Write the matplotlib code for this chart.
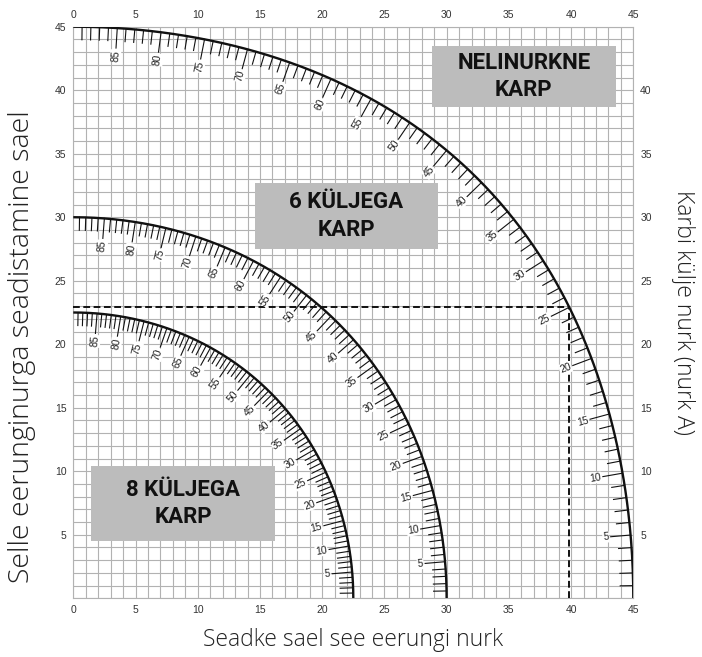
# Compound mitre chart: saw settings for 4, 6 and 8 sided boxes
import numpy as np
import matplotlib.pyplot as plt
from matplotlib.ticker import MultipleLocator
from matplotlib.patches import Rectangle

# box types and their names
box_sides = [4, 6, 8]
box_names = ['NELINURKNE\nKARP', '6 KÜLJEGA\nKARP', '8 KÜLJEGA\nKARP']

# side angles (angle A) marked along each curve, every degree
side_angles = np.arange(1, 90)
labelled_angles = np.arange(5, 90, 5)

# worked example shown with dashed lines on the 4 sided curve
example_sides = 4
example_angle = 25

axis_ticks = np.arange(0, 46, 5)


def saw_x(angle, n):
    # horizontal scale value for side angle A on an n sided box
    return np.degrees(np.arcsin(np.cos(np.radians(angle)) * np.sin(np.pi / n)))


def saw_y(angle, n):
    # vertical scale value for side angle A on an n sided box
    return np.degrees(np.arctan(np.sin(np.radians(angle)) * np.tan(np.pi / n)))


fig = plt.figure(figsize=(7.02, 6.57), dpi=100)
ax = fig.add_axes([73.3 / 702, 1 - 598.3 / 657, 560 / 702, 571.6 / 657])
ax.set_xlim(0, 45)
ax.set_ylim(0, 45)

# pixels per data unit, used to keep ticks square to the curves
sx = 560 / 45
sy = 571.6 / 45

grid_col = '#b2b2b2'
ax.xaxis.set_minor_locator(MultipleLocator(1))
ax.yaxis.set_minor_locator(MultipleLocator(1))
ax.set_xticks(axis_ticks)
ax.set_yticks(axis_ticks)
ax.grid(which='both', color=grid_col, lw=0.8, zorder=0)
ax.set_axisbelow(True)
for s in ax.spines.values():
    s.set_color(grid_col)
    s.set_linewidth(0.8)

ax.tick_params(which='both', length=0, top=True, right=True,
               labeltop=True, labelright=True, labelsize=7.5,
               labelcolor='#333333', pad=5)
for lab in ax.get_xticklabels() + ax.get_yticklabels():
    lab.set_family('Liberation Sans')
for t in ax.yaxis.get_major_ticks():
    if t.get_loc() == 0:
        t.label1.set_visible(False)
        t.label2.set_visible(False)
    if t.get_loc() == 45:
        t.label2.set_visible(False)

# the curves with their degree ticks and labels
fine = np.linspace(0, 90, 400)
for n in box_sides:
    ax.plot(saw_x(fine, n), saw_y(fine, n), color='#111111', lw=1.7,
            solid_capstyle='butt', zorder=4)
    for a in side_angles:
        x0, y0 = saw_x(a, n), saw_y(a, n)
        tx = (saw_x(a + 0.01, n) - saw_x(a - 0.01, n)) * sx
        ty = (saw_y(a + 0.01, n) - saw_y(a - 0.01, n)) * sy
        norm = np.hypot(tx, ty)
        nx, ny = -ty / norm, tx / norm  # points in towards the origin
        long_tick = a in labelled_angles
        length = 20 if long_tick else 13
        x1, y1 = x0 + length * nx / sx, y0 + length * ny / sy
        ax.plot([x0, x1], [y0, y1], color='#111111', lw=0.8, zorder=4)
        if long_tick:
            rot = np.degrees(np.arctan2(-ny, -nx))
            ax.text(x1 + 2 * nx / sx, y1 + 2 * ny / sy, str(a), rotation=rot,
                    rotation_mode='anchor', ha='right', va='center',
                    fontsize=7.5, family='Liberation Sans', color='#222222',
                    bbox=dict(boxstyle='square,pad=0.05', fc='white', ec='none'),
                    zorder=5)

# dashed example lines
ex_x = saw_x(example_angle, example_sides)
ex_y = saw_y(example_angle, example_sides)
ax.plot([0, ex_x], [ex_y, ex_y], color='#111111', lw=1.4,
        ls=(0, (3.5, 1.8)), zorder=3)
ax.plot([ex_x, ex_x], [0, ex_y], color='#111111', lw=1.4,
        ls=(0, (3.5, 1.8)), zorder=3)

# grey name boxes
box_spots = [(28.8, 38.7, 14.8, 4.8), (14.6, 27.5, 14.7, 5.2), (1.45, 4.5, 14.75, 5.9)]
for name, (bx, by, bw, bh) in zip(box_names, box_spots):
    ax.add_patch(Rectangle((bx, by), bw, bh, fc='#bcbcbc', ec='none', zorder=2))
    ax.text(bx + bw / 2, by + bh / 2, name, ha='center', va='center',
            fontsize=16, fontweight='bold', family='Roboto',
            color='#111111', linespacing=1.3, zorder=3)

# axis titles
title_font = dict(family='Open Sans', fontweight='light', color='#222222')
fig.text(353 / 702, 1 - 640 / 657, 'Seadke sael see eerungi nurk',
         ha='center', va='center', fontsize=16.5, **title_font)
fig.text(22 / 702, 1 - 347 / 657, 'Selle eerunginurga seadistamine sael',
         ha='center', va='center', rotation=90, fontsize=20.5, **title_font)
fig.text(683 / 702, 1 - 312 / 657, 'Karbi külje nurk (nurk A)',
         ha='center', va='center', rotation=-90, fontsize=16.5, **title_font)

plt.savefig('out.png', dpi=100)
